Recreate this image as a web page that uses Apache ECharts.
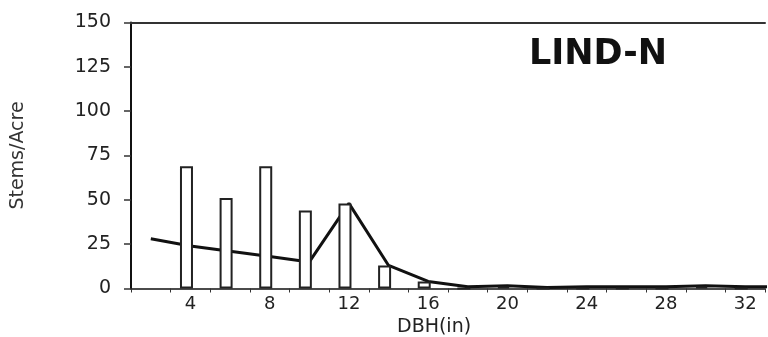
<!DOCTYPE html>
<html>
<head>
<meta charset="utf-8">
<script src="https://cdn.jsdelivr.net/npm/echarts@6/dist/echarts.min.js"></script>
<style>html,body{margin:0;padding:0;background:#fff}#c{width:768px;height:337px}</style>
</head>
<body>
<div id="c"></div>
<script>
// ---- data ----
const chartTitle = 'LIND-N';
const yAxisName = 'Stems/Acre';
const xAxisName = 'DBH(in)';
const barDbh = [4, 6, 8, 10, 12, 14, 16, 18, 20, 22, 24, 26, 28, 30, 32];
const barValues = [69, 51, 69, 44, 48, 13, 4, 0, 1, 0, 0, 0, 0, 1, 0];
const lineDbh = [2, 4, 6, 8, 10, 12, 14, 16, 18, 20, 22, 24, 26, 28, 30, 32, 34];
const lineValues = [28, 24, 21, 18, 15, 48, 13, 4, 1, 1.5, 0.5, 1, 1, 1, 1.5, 1, 1];
const xLabelStep = 4;
const yTicks = [0, 25, 50, 75, 100, 125, 150];

const font = 'DejaVu Sans';
const chart = echarts.init(document.getElementById('c'), null, {renderer: 'canvas'});
const xMin = 1, xMax = 33, barShift = 0.2;

chart.setOption({
  animation: false,
  backgroundColor: '#fff',
  title: {
    text: chartTitle, left: 524, top: 32,
    textStyle: {fontFamily: font, fontWeight: 'bold', fontSize: 35, color: '#111'}
  },
  grid: {left: 131, right: -10, top: 22.5, bottom: 48.5},
  xAxis: [
    { // ticks + axis line
      type: 'value', position: 'bottom', min: xMin, max: xMax, interval: 2,
      axisLine: {show: true, lineStyle: {color: '#111', width: 1.5}},
      axisTick: {show: true, length: 4, lineStyle: {color: '#333', width: 1}},
      axisLabel: {show: false}, splitLine: {show: false}
    },
    { // labels at multiples of 4
      type: 'value', position: 'bottom', min: xMin, max: xMax, interval: 1,
      axisLine: {show: false}, axisTick: {show: false}, splitLine: {show: false},
      axisLabel: {
        show: true, margin: 7, color: '#222', fontFamily: font, fontSize: 18,
        formatter: v => (v % xLabelStep === 0 ? String(v) : '')
      }
    },
    { // top frame line
      type: 'value', position: 'top', min: xMin, max: xMax,
      axisLine: {show: true, lineStyle: {color: '#333', width: 2}},
      axisTick: {show: false}, axisLabel: {show: false}, splitLine: {show: false}
    },
    { // bar positioning axis (bars sit slightly left of their class mark)
      type: 'value', show: false, min: xMin + barShift, max: xMax + barShift,
      splitLine: {show: false}
    }
  ],
  yAxis: {
    type: 'value', min: yTicks[0], max: yTicks[yTicks.length - 1], interval: 25,
    name: yAxisName, nameLocation: 'middle', nameGap: 103, nameRotate: 90,
    nameTextStyle: {fontFamily: font, fontSize: 19, color: '#333'},
    axisLine: {show: true, lineStyle: {color: '#111', width: 2}},
    axisTick: {show: true, length: 7, lineStyle: {color: '#333', width: 1.5}},
    axisLabel: {margin: 20, color: '#222', fontFamily: font, fontSize: 19},
    splitLine: {show: false}
  },
  graphic: [{
    type: 'text', left: 397, top: 318,
    style: {text: xAxisName, fontFamily: font, fontSize: 19, fill: '#222'}
  }],
  series: [
    {
      type: 'line', xAxisIndex: 0, yAxisIndex: 0, z: 1,
      data: lineDbh.map((x, i) => [x, lineValues[i]]),
      showSymbol: false, symbol: 'none',
      lineStyle: {color: '#111', width: 3}
    },
    {
      type: 'bar', xAxisIndex: 3, yAxisIndex: 0, z: 3,
      data: barDbh.map((x, i) => [x, barValues[i]]),
      barWidth: 13,
      itemStyle: {color: '#fff', borderColor: '#222', borderWidth: 2}
    }
  ]
});
</script>
</body>
</html>
